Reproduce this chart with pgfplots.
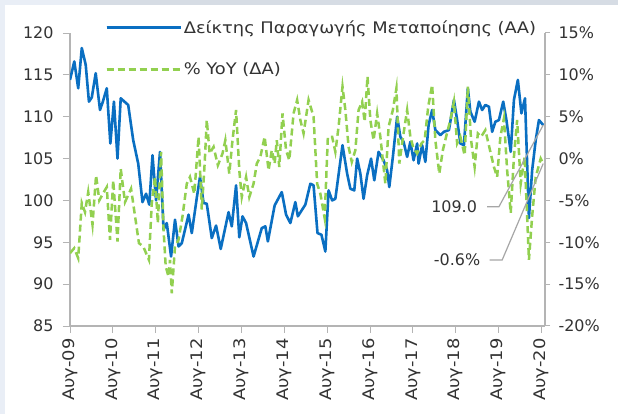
\documentclass[border=0pt]{standalone}
\usepackage{fontspec}
\setmainfont{DejaVu Sans}
\newfontfamily\widefont[FakeStretch=1.12]{DejaVu Sans}
\usepackage{pgfplots}
\pgfplotsset{compat=1.18}

\definecolor{idxblue}{HTML}{0A6FC2}
\definecolor{yoygreen}{HTML}{92D050}
\definecolor{axgray}{HTML}{B4B4B4}
\definecolor{leadgray}{HTML}{A6A6A6}
\definecolor{txt}{HTML}{333333}
\definecolor{bgblue}{HTML}{E9EEF6}
\definecolor{bggray}{HTML}{D6DCE4}

\pgfplotsset{
  base/.style={
    at={(70bp,88bp)}, anchor=south west,
    width=475bp, height=293bp, scale only axis,
    xmin=0, xmax=133,
    tick align=outside,
    axis line style={-, axgray, line width=1.5bp},
    tick style={axgray, line width=1bp},
    /pgf/number format/assume math mode=true,
    tick label style={font=\fontsize{16}{19}\selectfont, text=txt},
  }
}

\begin{document}
\begin{tikzpicture}
\fill[bgblue] (0,0) rectangle (618bp,414bp);
\fill[bggray] (80bp,409bp) rectangle (618bp,414bp);
\fill[white] (5bp,0) rectangle (618bp,409bp);

% ---------- left axis: index (AA) ----------
\begin{axis}[base,
  axis y line*=left, axis x line*=bottom,
  ymin=85, ymax=120, ytick={85,90,...,120},
  major tick length=7bp,
  yticklabel shift=6bp,
  xtick={0,12,...,132},
  xticklabels={Αυγ-09,Αυγ-10,Αυγ-11,Αυγ-12,Αυγ-13,Αυγ-14,Αυγ-15,Αυγ-16,Αυγ-17,Αυγ-18,Αυγ-19,Αυγ-20},
  xticklabel style={rotate=90, anchor=east, font=\widefont\fontsize{16}{19}\selectfont},
  xticklabel shift=2bp,
  legend style={at={(0.0737,1.051)}, anchor=north west, draw=none, fill=none,
    inner sep=0pt, row sep=24bp, font=\widefont\fontsize{16}{19}\selectfont, text=txt},
  legend cell align=left,
  legend image code/.code={\draw[#1] (0bp,0bp) -- (68bp,0bp); \path (0bp,0bp) -- (74bp,0bp);},
]
\addplot[idxblue, line width=2.6bp, line join=round] coordinates {
(0,114.4)(1.2,116.6)(2.3,113.4)(3.3,118.2)(4.4,116.2)(5.3,111.8)(6.1,112.3)(7.2,115.2)
(8.4,110.8)(9.2,111.8)(10.3,113.4)(11.3,106.8)(12.3,111.8)(13.3,105.0)(14.2,112.2)(16.3,111.4)
(17.7,107.2)(19.1,104.4)(20.3,99.8)(21.3,100.8)(22.2,99.5)(23.1,105.4)(24.1,100.0)(25.2,105.8)
(26.2,96.5)(27.1,97.3)(28.3,93.3)(29.4,97.7)(30.4,94.5)(31.3,94.9)(32.2,96.5)(33.2,98.3)
(34.1,96.1)(35.5,100.3)(36.4,102.8)(37.4,99.7)(38.3,99.6)(39.7,95.5)(40.9,97.0)(42.2,94.2)
(44.4,98.6)(45.3,96.9)(46.5,101.8)(47.4,95.6)(48.3,98.1)(49.3,97.3)(51.4,93.3)(53.7,96.7)
(54.7,96.9)(55.4,95.1)(57.3,99.4)(59.3,101.0)(60.5,98.3)(61.7,97.3)(63.1,99.8)(63.8,98.1)
(65.9,99.5)(67.3,102.0)(68.2,101.8)(69.3,96.1)(70.4,95.9)(71.5,93.9)(72.4,101.2)(73.4,100.0)
(74.3,100.2)(76.3,106.6)(77.6,103.2)(78.5,101.4)(79.6,101.2)(80.4,105.0)(81.3,103.2)(82.2,100.2)
(83.2,103.0)(84.3,105.0)(85.2,102.4)(86.4,105.8)(87.8,104.8)(88.8,103.6)(89.4,101.6)(90.4,105.2)
(91.6,110.0)(92.5,107.6)(93.4,107.0)(94.4,105.2)(95.3,107.0)(96.2,104.8)(97.2,106.8)(97.6,104.4)
(98.6,106.6)(99.5,104.6)(100.4,109.0)(101.4,110.8)(102.3,108.4)(103.7,107.8)(104.7,108.2)(106.1,108.4)
(107.5,112.0)(108.4,109.6)(109.3,106.8)(110.3,106.6)(111.4,113.4)(112.1,110.6)(113.3,109.4)(114.5,111.8)
(115.4,110.8)(116.3,111.4)(117.3,111.2)(118.2,108.2)(119.1,109.4)(120.1,109.6)(121.3,111.8)(122.2,109.6)
(123.4,105.8)(124.3,112.0)(125.4,114.4)(126.4,110.4)(127.4,112.2)(128.5,97.9)(129.4,103.6)(130.4,107.2)
(131.3,109.6)(132.5,109.0)};
\addlegendentry{Δείκτης Παραγωγής Μεταποίησης (ΑΑ)}
\addlegendimage{yoygreen, line width=2.5bp, dash pattern=on 7bp off 4bp}
\addlegendentry{\% YoY (ΔΑ)}
\end{axis}

% ---------- right axis: % YoY (DA) ----------
\begin{axis}[base,
  axis y line*=right, hide x axis,
  ymin=-20, ymax=15, ytick={-20,-15,...,15},
  yticklabels={-20\%,-15\%,-10\%,-5\%,0\%,5\%,10\%,15\%},
  yticklabel style={anchor=west},
  yticklabel shift=5bp,
  major tick length=5bp,
]
\addplot[yoygreen, line width=2.5bp, dash pattern=on 7bp off 4bp] coordinates {
(0,-11.3)(1.2,-10.7)(2.3,-11.9)(3.3,-5.3)(4.2,-6.4)(5.1,-4.0)(6.3,-7.9)(7.3,-2.0)
(8.2,-5.0)(9.2,-4.2)(10.3,-3.4)(11.2,-9.7)(12.1,-2.6)(13.3,-9.9)(14.2,-1.2)(15.4,-5.2)
(17.1,-3.6)(19.3,-10.1)(20.5,-10.5)(22.1,-12.1)(22.9,-5.3)(23.8,-2.2)(24.6,-7.7)(25.5,0.8)
(26.2,-8.5)(26.8,-12.9)(27.6,-14.1)(28.0,-12.1)(28.5,-16.1)(29.4,-10.5)(30.4,-9.7)(31.5,-6.9)
(32.7,-3.0)(33.6,-2.2)(34.8,-4.2)(36.0,2.6)(36.9,-6.1)(37.7,-0.6)(38.3,4.6)(39.1,0.6)
(40.2,1.4)(41.4,-0.8)(42.7,0.6)(43.5,2.2)(44.6,-1.8)(45.5,2.2)(46.5,5.8)(47.4,-1.4)
(48.1,-4.6)(49.3,-2.2)(50.2,-4.6)(51.4,-3.0)(52.3,-0.6)(53.3,0.2)(54.5,2.6)(55.6,-1.4)
(56.5,1.0)(57.3,-0.6)(57.9,2.2)(58.6,-1.0)(59.5,5.4)(60.5,1.0)(61.4,-0.2)(62.6,5.4)
(63.6,7.0)(64.5,4.6)(65.4,3.0)(66.8,7.0)(68.2,5.0)(69.2,-3.0)(70.1,-4.2)(71.3,-7.1)
(72.2,2.6)(73.4,2.6)(74.3,0.8)(75.2,3.8)(76.3,8.6)(77.1,5.8)(78.0,1.4)(78.9,-0.4)
(79.9,1.0)(80.8,5.8)(81.8,6.8)(82.5,4.4)(83.3,9.8)(84.1,4.6)(85.0,2.2)(86.0,5.4)
(86.9,2.6)(88.3,-3.0)(89.2,3.8)(90.4,5.8)(91.4,8.4)(92.2,-0.6)(93.4,3.0)(94.4,5.8)
(95.3,2.6)(96.2,1.2)(97.2,0.6)(98.4,1.8)(99.3,2.2)(100.3,6.2)(101.4,8.8)(102.3,2.2)
(103.4,-1.8)(104.4,1.0)(105.3,2.6)(106.5,4.6)(107.5,6.8)(108.4,1.8)(109.3,2.6)(110.5,0.4)
(111.4,8.6)(112.3,2.2)(113.3,-1.0)(114.2,3.0)(115.1,2.6)(116.3,3.4)(117.6,1.0)(118.7,-1.0)
(119.6,-2.2)(120.5,2.6)(121.5,4.8)(122.4,-1.4)(123.4,-6.5)(124.3,0.2)(125.2,4.6)(126.2,-3.0)
(127.3,0.2)(128.5,-12.1)(129.4,-6.9)(130.4,-2.2)(131.8,0.0)(132.5,-0.6)};
% labels for the latest values, with leader lines
\draw[leadgray, line width=1.2bp] (axis cs:116.8,-5.75) -- (axis cs:120.1,-5.75) -- (axis cs:132.5,4.0);
\draw[leadgray, line width=1.2bp] (axis cs:117.5,-12.12) -- (axis cs:121.0,-12.12) -- (axis cs:132.5,-0.6);
\node[anchor=east, inner sep=0pt, text=txt, font=\fontsize{16}{19}\selectfont] at (axis cs:114.0,-5.75) {109.0};
\node[anchor=east, inner sep=0pt, text=txt, font=\fontsize{16}{19}\selectfont] at (axis cs:114.9,-12.12) {-0.6\%};
\end{axis}
\end{tikzpicture}
\end{document}
